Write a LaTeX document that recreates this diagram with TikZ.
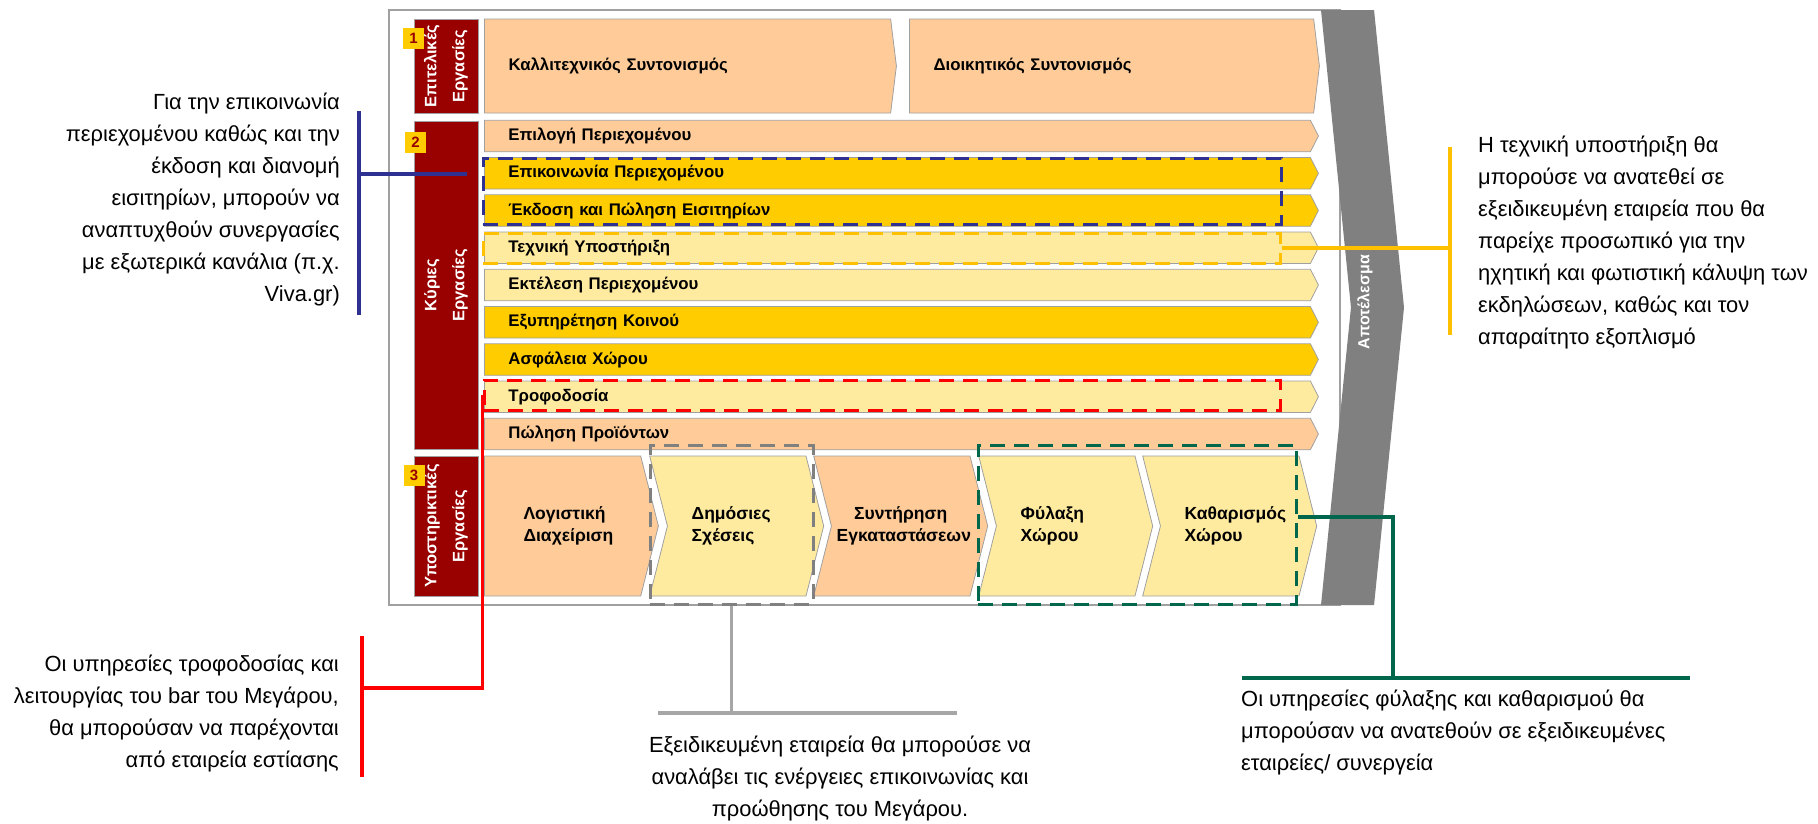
\documentclass[tikz,border=0pt]{standalone}
\usepackage{fontspec}
\setmainfont{Liberation Sans}
\usepackage{tikz}
\usetikzlibrary{shapes.symbols, positioning}
\usetikzlibrary{arrows}

\definecolor{peach}{RGB}{255,204,153}
\definecolor{gold}{RGB}{255,204,0}
\definecolor{cream}{RGB}{255,235,160}
\definecolor{maroon}{RGB}{153,0,0}
\definecolor{lanegrey}{RGB}{160,160,160}
\definecolor{resultgrey}{RGB}{128,128,128}
\definecolor{noteblue}{RGB}{46,49,146}
\definecolor{noteyellow}{RGB}{255,192,0}
\definecolor{notered}{RGB}{255,0,0}
\definecolor{notegrey}{RGB}{166,166,166}
\definecolor{dashgrey}{RGB}{128,128,128}
\definecolor{notegreen}{RGB}{0,102,76}

\begin{document}
\begin{tikzpicture}[x=1pt,y=-1pt,node distance=37.25pt,line join=miter]
\tikzstyle{lane}=[signal,signal to=east,signal from=nowhere,signal pointer angle=126,draw=lanegrey,line width=0.8pt,minimum width=834pt,minimum height=31.5pt,inner sep=0pt,text width=778pt,align=left]
\tikzstyle{chevron}=[signal,signal to=east,signal from=west,signal pointer angle=151.6,draw=lanegrey,line width=0.8pt,minimum width=174pt,minimum height=140pt,inner sep=0pt,text width=90pt,align=left,font=\fontsize{17.5}{22}\bfseries\selectfont]
\tikzstyle{phase}=[fill=maroon,draw=lanegrey,line width=0.8pt,text=white,align=center,rotate=90,inner sep=0pt,minimum height=64pt,font=\fontsize{16.5}{28}\bfseries\selectfont]
\tikzstyle{num}=[fill=gold,text=maroon,minimum size=21pt,inner sep=0pt,font=\fontsize{15}{15}\bfseries\selectfont]
\tikzstyle{callbox}=[dash pattern=on 15pt off 9pt,line width=3pt,inner sep=0pt,minimum width=0pt]
\tikzstyle{callline}=[line width=3.2pt]
\tikzstyle{note}=[inner sep=0pt,font=\fontsize{21.9}{32}\selectfont]
\tikzset{font=\fontsize{16.8}{21.5}\bfseries\selectfont}

        \useasboundingbox (0,0) rectangle (1818,823);
        \draw[lanegrey,line width=1.5pt] (389,10) rectangle (1340,605);

        \node[signal,signal to=east,signal from=west,signal pointer angle=168.5,fill=resultgrey,minimum width=83pt,minimum height=595pt,inner sep=0pt] (result) at (1362.5,307.5) {};
        \node[rotate=90,text=white,inner sep=0pt,font=\fontsize{16}{16}\bfseries\selectfont] (resultText) at (1365,302) {Αποτέλεσμα};

        \node[phase,minimum width=94pt]   (ph1) at (446,66)  {Επιτελικές\\Εργασίες};
        \node[phase,minimum width=328pt]  (ph2) at (446,285) {Κύριες\\Εργασίες};
        \node[phase,minimum width=140pt]  (ph3) at (446,526) {Υποστηρικτικές\\Εργασίες};
        \node[num] (n1) at (413.5,38)  {1};
        \node[num] (n2) at (415.5,142) {2};
        \node[num] (n3) at (414,475)   {3};

        \node[lane,signal pointer angle=166,minimum width=412pt,minimum height=94pt,text width=358pt,fill=peach,anchor=west] (art)   at (484,66) {Καλλιτεχνικός Συντονισμός};
        \node[lane,signal pointer angle=166,minimum width=410pt,minimum height=94pt,text width=356pt,fill=peach,anchor=west] (admin) at (909,66) {Διοικητικός Συντονισμός};

        \node[lane,fill=peach,anchor=west] (r1) at (484,136) {Επιλογή Περιεχομένου};
        \node[lane,fill=gold]  (r2) [below of=r1] {Επικοινωνία Περιεχομένου};
        \node[lane,fill=gold]  (r3) [below of=r2] {Έκδοση και Πώληση Εισιτηρίων};
        \node[lane,fill=cream] (r4) [below of=r3] {Τεχνική Υποστήριξη};
        \node[lane,fill=cream] (r5) [below of=r4] {Εκτέλεση Περιεχομένου};
        \node[lane,fill=gold]  (r6) [below of=r5] {Εξυπηρέτηση Κοινού};
        \node[lane,fill=gold]  (r7) [below of=r6] {Ασφάλεια Χώρου};
        \node[lane,fill=cream] (r8) [below of=r7] {Τροφοδοσία};
        \node[lane,fill=peach] (r9) [below of=r8] {Πώληση Προϊόντων};

        \node[chevron,signal from=nowhere,text width=78pt,fill=peach,anchor=west] (s1) at (484,526) {Λογιστική\\Διαχείριση};
        \node[chevron,fill=cream,anchor=west] (s2) at (667,526)  {Δημόσιες\\Σχέσεις};
        \node[chevron,fill=peach,anchor=west,text width=128pt,align=center] (s3) at (831,526) {Συντήρηση\\Εγκαταστάσεων};
        \node[chevron,fill=cream,anchor=west] (s4) at (996,526)  {Φύλαξη\\Χώρου};
        \node[chevron,fill=cream,anchor=west] (s5) at (1160,526) {Καθαρισμός\\Χώρου};

        % dashed boxes
        \node[callbox,draw=noteblue,minimum width=798pt,minimum height=66pt]   (commBox)  at (882,191)     {};
        \node[callbox,draw=noteyellow,minimum width=797pt,minimum height=30pt] (techBox)  at (881.5,248)   {};
        \node[callbox,draw=notered,minimum width=796pt,minimum height=30pt]    (foodBox)  at (882,395)     {};
        \node[callbox,draw=dashgrey,minimum width=163pt,minimum height=159pt]  (prBox)    at (731.5,524.5) {};
        \node[callbox,draw=notegreen,minimum width=318pt,minimum height=159pt] (guardBox) at (1137,524.5)  {};

        % notes
        \node[note,anchor=east,align=right] (commNote) at (340,200) {Για την επικοινωνία\\περιεχομένου καθώς και την\\έκδοση και διανομή\\εισιτηρίων, μπορούν να\\αναπτυχθούν συνεργασίες\\με εξωτερικά κανάλια (π.χ.\\Viva.gr)};
        \node[note,anchor=west,align=left] (techNote) at (1478,243) {Η τεχνική υποστήριξη θα\\μπορούσε να ανατεθεί σε\\εξειδικευμένη εταιρεία που θα\\παρείχε προσωπικό για την\\ηχητική και φωτιστική κάλυψη των\\εκδηλώσεων, καθώς και τον\\απαραίτητο εξοπλισμό};
        \node[note,anchor=east,align=right] (foodNote) at (339,714) {Οι υπηρεσίες τροφοδοσίας και\\λειτουργίας του bar του Μεγάρου,\\θα μπορούσαν να παρέχονται\\από εταιρεία εστίασης};
        \node[note,align=center] (prNote) at (840,779) {Εξειδικευμένη εταιρεία θα μπορούσε να\\αναλάβει τις ενέργειες επικοινωνίας και\\προώθησης του Μεγάρου.};
        \node[note,anchor=west,align=left] (guardNote) at (1241,733) {Οι υπηρεσίες φύλαξης και καθαρισμού θα\\μπορούσαν να ανατεθούν σε εξειδικευμένες\\εταιρείες/ συνεργεία};

        \coordinate (commEnd)  at (467,174);
        \coordinate (commTop)  at (359,111);
        \coordinate (commBot)  at (359,315);
        \coordinate (techTop)  at (1450,147);
        \coordinate (techBot)  at (1450,335);
        \coordinate (foodTop)  at (362,636);
        \coordinate (foodBot)  at (362,777);
        \coordinate (foodTurn) at (362,688);
        \coordinate (prLeft)   at (658,713);
        \coordinate (prRight)  at (957,713);
        \coordinate (guardLeft)  at (1242,678);
        \coordinate (guardRight) at (1690,678);
        \coordinate (guardTurn)  at (1393,678);

        \path[callline]
        (commEnd) edge[draw=noteblue] (commTop |- commEnd)
        (commTop) edge[draw=noteblue] (commBot)
        (techBox.east) edge[draw=noteyellow] (techBox.east -| techTop)
        (techTop) edge[draw=noteyellow] (techBot)
        (foodTop) edge[draw=notered] (foodBot)
        (prBox.south) edge[draw=notegrey] (prBox.south |- prLeft)
        (prLeft) edge[draw=notegrey] (prRight)
        (guardLeft) edge[draw=notegreen] (guardRight)
        ; %end path

        \draw[callline,notered] (foodBox.west) |- (foodTurn);
        \draw[callline,notegreen] ([yshift=7.5pt]guardBox.east) -| (guardTurn);

\end{tikzpicture}
\end{document}
